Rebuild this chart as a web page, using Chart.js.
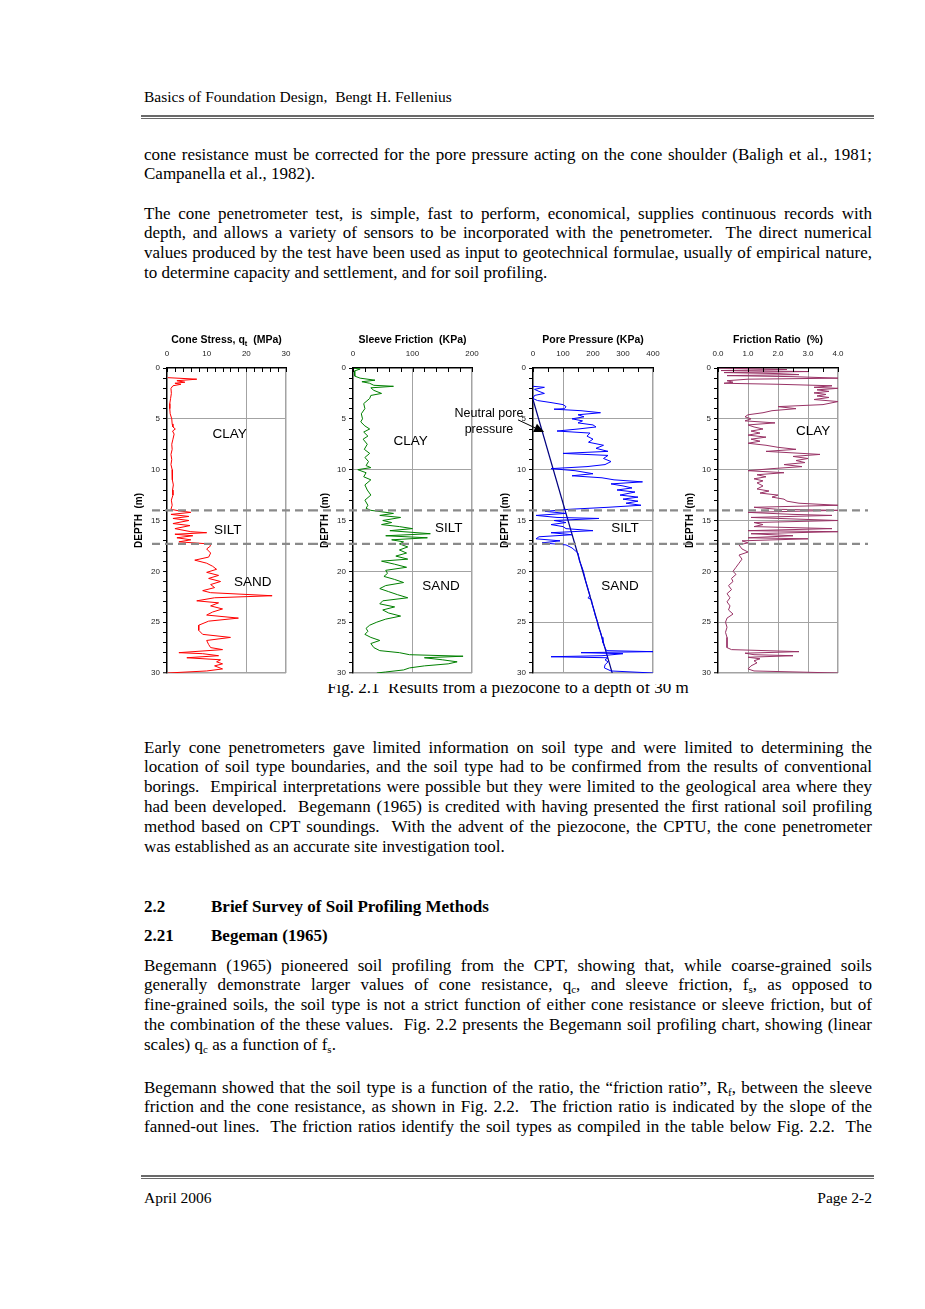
<!DOCTYPE html>
<html><head><meta charset="utf-8">
<script src="https://cdn.jsdelivr.net/npm/chart.js@4.4.0/dist/chart.umd.min.js"></script>
<style>
body{margin:0;background:#fff;}
#page{position:relative;width:925px;height:1309px;overflow:hidden;font-family:"Liberation Serif","Times New Roman",serif;font-size:17px;color:#000;background:#fff;}
.ln{position:absolute;left:144px;width:728px;line-height:20px;white-space:nowrap;}
.sm{font-size:15.5px;}
.j{text-align:justify;text-align-last:justify;white-space:normal;height:20px;}
.b{font-weight:bold;}
sub{font-size:11px;line-height:0;vertical-align:-3px;}
.rule{position:absolute;left:141px;width:733px;height:1px;border-top:2px solid #6a6a6a;border-bottom:1px solid #6a6a6a;}
.cv{position:absolute;top:325px;z-index:2;}
.note{position:absolute;z-index:3;font-family:"Liberation Sans",Arial,sans-serif;font-size:12.5px;line-height:16px;text-align:center;width:100px;}
</style></head>
<body><div id="page">
<div class="ln sm" style="top:87px">Basics of Foundation Design,&nbsp; Bengt H. Fellenius</div>
<div class="rule" style="top:115px"></div>

<div class="ln j" style="top:144.5px">cone resistance must be corrected for the pore pressure acting on the cone shoulder (Baligh et al., 1981;</div>
<div class="ln" style="top:164px">Campanella et al., 1982).</div>

<div class="ln j" style="top:203.5px">The cone penetrometer test, is simple, fast to perform, economical, supplies continuous records with</div>
<div class="ln j" style="top:223.3px">depth, and allows a variety of sensors to be incorporated with the penetrometer.&nbsp; The direct numerical</div>
<div class="ln j" style="top:243.1px">values produced by the test have been used as input to geotechnical formulae, usually of empirical nature,</div>
<div class="ln" style="top:262.9px">to determine capacity and settlement, and for soil profiling.</div>

<div class="ln" style="top:678px;text-align:center;">Fig. 2.1&nbsp; Results from a piezocone to a depth of 30 m</div>

<div class="ln j" style="top:737.5px">Early cone penetrometers gave limited information on soil type and were limited to determining the</div>
<div class="ln j" style="top:757.3px">location of soil type boundaries, and the soil type had to be confirmed from the results of conventional</div>
<div class="ln j" style="top:777.1px">borings.&nbsp; Empirical interpretations were possible but they were limited to the geological area where they</div>
<div class="ln j" style="top:796.9px">had been developed.&nbsp; Begemann (1965) is credited with having presented the first rational soil profiling</div>
<div class="ln j" style="top:816.7px">method based on CPT soundings.&nbsp; With the advent of the piezocone, the CPTU, the cone penetrometer</div>
<div class="ln" style="top:836.5px">was established as an accurate site investigation tool.</div>

<div class="ln b" style="top:896.5px">2.2</div>
<div class="ln b" style="top:896.5px;left:211px;width:600px">Brief Survey of Soil Profiling Methods</div>
<div class="ln b" style="top:925.5px">2.21</div>
<div class="ln b" style="top:925.5px;left:211px;width:600px">Begeman (1965)</div>

<div class="ln j" style="top:955.5px">Begemann (1965) pioneered soil profiling from the CPT, showing that, while coarse-grained soils</div>
<div class="ln j" style="top:975.3px">generally demonstrate larger values of cone resistance, q<sub>c</sub>, and sleeve friction, f<sub>s</sub>, as opposed to</div>
<div class="ln j" style="top:995.1px">fine-grained soils, the soil type is not a strict function of either cone resistance or sleeve friction, but of</div>
<div class="ln j" style="top:1014.9px">the combination of the these values.&nbsp; Fig. 2.2 presents the Begemann soil profiling chart, showing (linear</div>
<div class="ln" style="top:1034.7px">scales) q<sub>c</sub> as a function of f<sub>s</sub>.</div>

<div class="ln j" style="top:1077.5px">Begemann showed that the soil type is a function of the ratio, the “friction ratio”, R<sub>f</sub>, between the sleeve</div>
<div class="ln j" style="top:1097.3px">friction and the cone resistance, as shown in Fig. 2.2.&nbsp; The friction ratio is indicated by the slope of the</div>
<div class="ln j" style="top:1117.1px">fanned-out lines.&nbsp; The friction ratios identify the soil types as compiled in the table below Fig. 2.2.&nbsp; The</div>

<div class="rule" style="top:1175px"></div>
<div class="ln sm" style="top:1188px">April 2006</div>
<div class="ln sm" style="top:1188px;text-align:right">Page 2-2</div>

<canvas id="c1" class="cv" width="180" height="359" style="left:130px"></canvas>
<canvas id="c2" class="cv" width="180" height="359" style="left:310px"></canvas>
<canvas id="c3" class="cv" width="180" height="359" style="left:490px"></canvas>
<canvas id="c4" class="cv" width="205" height="359" style="left:670px"></canvas>
<div class="note" style="left:439px;top:405px">Neutral pore<br>pressure</div>
</div>
<script>
// keep each justified line on one row
document.querySelectorAll('.j').forEach(el => {
  let ws = 0;
  while (el.scrollHeight > 24 && ws > -4) { ws -= 0.25; el.style.wordSpacing = ws + 'px'; }
});

// ---------- DATA : [depth (m), value] ----------
const soilBoundaries = [14.0, 17.3];
const qtData = [[0.95,0.2],[1.1,7.5],[1.25,2.5],[1.4,4.5],[1.5,2.0],[1.6,3.5],[1.75,1.5],[2.0,1.0],[2.5,1.1],[3.0,0.9],[3.5,0.7],[4.0,0.7],[4.5,0.8],[5.0,1.2],[5.5,1.3],[5.8,1.5],[6.0,2.1],[6.2,1.4],[6.5,1.8],[7.0,1.5],[7.5,1.2],[8.0,1.3],[8.5,1.0],[9.0,1.2],[9.5,1.0],[10.0,1.3],[10.5,1.4],[11.0,1.3],[11.5,1.6],[12.0,1.4],[12.5,1.5],[13.0,1.1],[13.5,1.3],[13.9,1.0],[14.05,3.0],[14.2,6.0],[14.4,1.0],[14.6,5.5],[14.8,1.5],[15.0,5.5],[15.3,1.5],[15.5,5.8],[15.8,2.0],[16.1,6.0],[16.2,10.0],[16.35,2.0],[16.5,6.5],[16.7,2.5],[16.9,6.0],[17.1,3.0],[17.3,10.5],[17.5,11.0],[17.8,10.0],[18.2,11.0],[18.6,10.5],[18.9,7.0],[19.2,10.0],[19.5,11.5],[19.8,12.5],[20.1,10.0],[20.4,13.0],[20.7,10.5],[21.0,13.5],[21.3,11.0],[21.6,12.0],[21.9,9.0],[22.1,11.0],[22.4,26.5],[22.6,12.0],[22.9,7.5],[23.1,13.0],[23.4,11.0],[23.7,14.0],[24.0,11.5],[24.3,10.0],[24.6,18.0],[24.9,10.5],[25.3,8.0],[25.8,8.0],[26.2,9.0],[26.5,16.0],[26.8,10.0],[27.2,10.5],[27.5,11.0],[27.7,14.0],[28.0,3.0],[28.1,9.0],[28.3,13.0],[28.5,5.0],[28.7,13.5],[28.9,12.5],[29.1,14.0],[29.3,12.0],[29.6,14.0],[29.8,10.0],[30.0,0.2]];
const fsData = [[0.0,0],[0.1,12],[0.3,2],[0.8,3],[1.0,12],[1.2,37],[1.35,15],[1.5,28],[1.7,35],[1.8,68],[1.95,30],[2.2,35],[2.5,48],[2.7,30],[3.0,28],[3.5,18],[4.0,20],[4.5,14],[5.0,16],[5.3,13],[5.7,20],[6.0,28],[6.3,18],[6.7,25],[7.0,17],[7.5,24],[8.0,19],[8.4,28],[8.8,20],[9.2,26],[9.6,22],[9.8,30],[10.0,8],[10.3,22],[10.7,18],[11.0,30],[11.5,20],[12.0,24],[12.5,30],[13.0,20],[13.5,25],[13.8,22],[14.0,30],[14.3,68],[14.5,45],[14.7,80],[15.0,50],[15.2,65],[15.4,48],[15.6,78],[15.8,100],[16.0,62],[16.3,130],[16.5,55],[16.7,125],[16.9,65],[17.1,85],[17.3,78],[17.6,92],[17.9,78],[18.2,90],[18.5,72],[18.8,92],[19.0,48],[19.3,70],[19.6,90],[19.9,55],[20.2,58],[20.5,52],[20.8,70],[21.1,85],[21.4,55],[21.7,45],[22.0,60],[22.3,75],[22.6,92],[22.9,50],[23.2,45],[23.5,70],[23.8,50],[24.1,60],[24.4,80],[24.7,55],[25.0,40],[25.3,28],[25.6,22],[25.9,25],[26.2,20],[26.5,30],[26.8,45],[27.1,30],[27.5,35],[27.8,45],[28.0,78],[28.2,95],[28.35,185],[28.5,120],[28.7,150],[28.9,175],[29.1,160],[29.3,120],[29.5,95],[29.7,85],[29.9,55],[30.0,40]];
const uData = [[1.8,0],[1.9,38],[2.1,5],[2.3,20],[2.5,38],[2.7,5],[3.0,0],[3.2,15],[3.4,60],[3.6,100],[3.8,110],[4.0,105],[4.05,70],[4.2,160],[4.4,225],[4.6,150],[4.8,170],[5.0,130],[5.2,165],[5.4,150],[5.6,200],[5.8,210],[6.0,150],[6.2,80],[6.4,190],[6.7,180],[7.0,200],[7.3,185],[7.6,235],[7.9,210],[8.2,250],[8.4,100],[8.6,250],[8.9,235],[9.2,260],[9.5,240],[9.7,180],[9.9,60],[10.1,140],[10.4,200],[10.6,130],[10.8,230],[11.0,270],[11.2,365],[11.4,260],[11.6,300],[11.8,330],[12.0,280],[12.2,340],[12.5,290],[12.7,350],[12.9,300],[13.1,350],[13.3,310],[13.5,360],[13.7,250],[13.9,120],[14.1,40],[14.3,110],[14.5,10],[14.7,80],[14.8,220],[15.0,70],[15.2,110],[15.4,60],[15.6,100],[15.8,110],[16.0,200],[16.2,60],[16.4,130],[16.6,20],[16.8,10],[17.0,90],[17.2,30],[17.4,110],[17.7,130],[18.2,150],[19.0,155],[19.5,162],[20.0,168],[20.5,172],[21.0,176],[21.5,181],[22.0,186],[22.4,190],[22.6,183],[22.8,195],[23.2,197],[23.8,203],[24.4,208],[25.0,215],[25.5,218],[26.0,225],[26.5,230],[27.0,233],[27.5,240],[27.8,245],[27.9,400],[28.0,160],[28.1,300],[28.3,230],[28.4,60],[28.5,250],[28.7,240],[28.9,250],[29.2,240],[29.5,238],[29.8,260],[30.0,400]];
const u0Data = [[3.1,0],[30.0,264]];
const rfData = [[0.0,0.0],[0.15,2.3],[0.25,0.1],[0.35,3.0],[0.45,0.2],[0.55,2.0],[0.65,2.7],[0.75,0.3],[0.85,2.5],[1.0,4.0],[1.1,1.0],[1.25,0.3],[1.4,0.5],[1.5,0.2],[1.6,2.0],[1.75,3.8],[1.9,3.2],[2.0,4.0],[2.15,3.3],[2.3,3.7],[2.45,3.2],[2.6,3.6],[2.75,3.3],[2.9,3.7],[3.1,3.2],[3.3,4.0],[3.6,3.5],[3.8,2.0],[4.0,2.6],[4.2,1.8],[4.4,1.5],[4.6,1.0],[4.8,0.9],[5.0,1.1],[5.2,0.9],[5.4,1.9],[5.6,1.0],[5.8,1.2],[6.0,1.5],[6.2,1.1],[6.4,1.4],[6.6,1.0],[6.8,1.6],[7.0,1.1],[7.2,1.4],[7.4,1.0],[7.6,1.6],[7.8,2.0],[8.0,2.6],[8.2,1.6],[8.4,2.8],[8.5,3.4],[8.7,2.5],[8.9,3.0],[9.1,2.6],[9.3,2.9],[9.5,2.2],[9.7,2.8],[9.9,1.8],[10.1,1.0],[10.3,2.2],[10.5,1.3],[10.7,1.6],[10.9,1.2],[11.1,1.5],[11.3,1.3],[11.6,1.5],[11.9,1.3],[12.1,1.7],[12.3,1.4],[12.5,2.0],[12.7,1.8],[12.9,2.2],[13.1,2.3],[13.3,2.7],[13.5,4.0],[13.7,1.2],[13.9,2.0],[14.0,4.0],[14.2,1.0],[14.4,2.5],[14.5,3.8],[14.7,1.1],[14.9,3.0],[15.0,4.0],[15.2,1.2],[15.4,1.5],[15.6,1.2],[15.8,3.8],[16.0,1.0],[16.1,4.0],[16.3,1.1],[16.5,2.5],[16.7,1.0],[16.8,3.0],[17.0,0.8],[17.2,1.0],[17.4,0.7],[17.8,0.8],[18.1,1.0],[18.4,0.7],[18.8,0.8],[19.2,0.7],[19.6,0.6],[20.0,0.5],[20.3,0.6],[20.7,0.45],[21.0,0.5],[21.4,0.35],[21.8,0.45],[22.2,0.3],[22.6,0.4],[23.0,0.3],[23.4,0.4],[23.8,0.35],[24.2,0.5],[24.6,0.3],[25.0,0.25],[25.5,0.3],[26.0,0.25],[26.5,0.3],[27.0,0.3],[27.5,0.3],[27.7,0.45],[27.9,2.7],[28.05,0.9],[28.2,1.2],[28.3,2.5],[28.45,1.0],[28.6,1.4],[28.8,1.2],[29.0,1.3],[29.3,1.1],[29.6,1.0],[29.8,1.2],[30.0,4.0]];

// ---------- RENDERING ----------
const SANS = '"Liberation Sans", Arial, sans-serif';
const toPts = arr => arr.map(([d, v]) => ({x: v, y: d}));

const cptPlugin = {
  id: 'cpt',
  beforeDraw(chart) {
    const c = chart.ctx; c.save(); c.fillStyle = '#fff'; c.fillRect(0, 0, chart.width, chart.height); c.restore();
  },
  afterDraw(chart, args, o) {
    const c = chart.ctx, a = chart.chartArea, xs = chart.scales.x, ys = chart.scales.y;
    c.save();
    c.strokeStyle = '#000'; c.lineWidth = 1;
    for (let v = xs.min; v <= xs.max + 1e-9; v += o.minor) {
      const px = Math.round(xs.getPixelForValue(v)) + 0.5;
      c.beginPath(); c.moveTo(px, a.top); c.lineTo(px, a.top + 4); c.stroke();
    }
    c.fillStyle = '#000'; c.textBaseline = 'alphabetic';
    const big = 'bold 10.5px ' + SANS, small = 'bold 7.5px ' + SANS;
    let w = 0;
    o.title.forEach(p => { c.font = p.sub ? small : big; w += c.measureText(p.t).width; });
    let tx = (a.left + a.right) / 2 - w / 2; const ty = a.top - 25;
    o.title.forEach(p => { c.font = p.sub ? small : big; c.fillText(p.t, tx, ty + (p.sub ? 2.5 : 0)); tx += c.measureText(p.t).width; });
    c.font = '13.5px ' + SANS; c.textAlign = 'center'; c.textBaseline = 'middle';
    o.labels.forEach(l => c.fillText(l.text, xs.getPixelForValue(l.x), ys.getPixelForValue(l.y)));
    if (o.arrow) {
      const x1 = xs.getPixelForValue(o.arrow.from[0]), y1 = ys.getPixelForValue(o.arrow.from[1]);
      const x2 = xs.getPixelForValue(o.arrow.to[0]), y2 = ys.getPixelForValue(o.arrow.to[1]);
      const ang = Math.atan2(y2 - y1, x2 - x1), L = 10, W = 4.5;
      const bx = x2 - L * Math.cos(ang), by = y2 - L * Math.sin(ang);
      c.strokeStyle = '#000'; c.lineWidth = 1;
      c.beginPath(); c.moveTo(x1, y1); c.lineTo(bx, by); c.stroke();
      c.beginPath(); c.moveTo(x2, y2);
      c.lineTo(bx + W * Math.sin(ang), by - W * Math.cos(ang));
      c.lineTo(bx - W * Math.sin(ang), by + W * Math.cos(ang));
      c.closePath(); c.fillStyle = '#000'; c.fill();
    }
    c.strokeStyle = '#8a8a8a'; c.lineWidth = 2.2; c.setLineDash([8, 5]);
    const xStart = o.dashLeft == null ? 0 : a.left - o.dashLeft;
    const xEnd = o.dashRight == null ? chart.width : a.right + o.dashRight;
    soilBoundaries.forEach(d => {
      const py = ys.getPixelForValue(d);
      c.beginPath(); c.moveTo(xStart, py); c.lineTo(xEnd, py); c.stroke();
    });
    c.restore();
  }
};

function cptChart(id, cfg) {
  const gridCol = list => ctx => (ctx.tick && list.some(v => Math.abs(v - ctx.tick.value) < 1e-9)) ? '#a3a3a3' : 'rgba(0,0,0,0)';
  return new Chart(document.getElementById(id), {
    type: 'scatter',
    data: { datasets: cfg.datasets.map(ds => ({
      data: toPts(ds.data), borderColor: ds.color, borderWidth: ds.width || 1,
      showLine: true, pointRadius: 0, tension: 0, fill: false })) },
    options: {
      responsive: false, animation: false, devicePixelRatio: 1,
      layout: { padding: { left: cfg.padLeft, right: cfg.padRight, top: 0, bottom: 11 } },
      plugins: { legend: { display: false }, tooltip: { enabled: false },
        cpt: { minor: cfg.minor, title: cfg.title, labels: cfg.labels, arrow: cfg.arrow,
               dashLeft: cfg.dashLeft, dashRight: cfg.dashRight } },
      scales: {
        x: { type: 'linear', position: 'top', min: cfg.xMin, max: cfg.xMax,
          ticks: { stepSize: cfg.xStep, padding: 9, color: '#222', autoSkip: false, maxRotation: 0,
                   font: { family: SANS, size: 8 }, callback: cfg.xFmt || (v => v) },
          grid: { drawTicks: false, color: gridCol(cfg.xGrid),
                  lineWidth: ctx => (ctx.tick && ctx.tick.value === cfg.xMax) ? 1.5 : 1 },
          border: { color: '#000', width: 1.5 },
          afterFit: s => { s.height = 43; } },
        y: { type: 'linear', reverse: true, min: 0, max: 30,
          ticks: { stepSize: 1, maxTicksLimit: 100, padding: 3, color: '#222', autoSkip: false,
                   font: { family: SANS, size: 8 }, callback: v => (v % 5 === 0 ? v : '') },
          grid: { tickLength: 4, tickColor: '#000', tickWidth: 1, color: gridCol(cfg.yGrid),
                  lineWidth: ctx => (ctx.tick && ctx.tick.value === 30) ? 1.5 : 1 },
          border: { color: '#000', width: 1.5 },
          title: { display: true, text: 'DEPTH  (m)', color: '#000', padding: 0,
                   font: { family: SANS, size: 10, weight: 'bold' } },
          afterFit: s => { s.width = 34; } }
      }
    },
    plugins: [cptPlugin]
  });
}

cptChart('c1', {
  datasets: [{ data: qtData, color: '#ff0000' }],
  xMin: 0, xMax: 30, xStep: 10, minor: 2, xGrid: [20, 30], yGrid: [5, 30],
  padLeft: 3, padRight: 24, dashLeft: 15,
  title: [{t: 'Cone Stress, q'}, {t: 't', sub: true}, {t: '  (MPa)'}],
  labels: [{text: 'CLAY', x: 15.8, y: 6.5}, {text: 'SILT', x: 15.3, y: 16.0}, {text: 'SAND', x: 21.6, y: 21.1}]
});
cptChart('c2', {
  datasets: [{ data: fsData, color: '#008000' }],
  xMin: 0, xMax: 200, xStep: 100, minor: 20, xGrid: [100, 200], yGrid: [10, 20, 30],
  padLeft: 9, padRight: 18,
  title: [{t: 'Sleeve Friction  (KPa)'}],
  labels: [{text: 'CLAY', x: 97, y: 7.2}, {text: 'SILT', x: 161, y: 15.8}, {text: 'SAND', x: 148, y: 21.5}]
});
cptChart('c3', {
  datasets: [{ data: uData, color: '#0000ff' }, { data: u0Data, color: '#000080', width: 1.2 }],
  xMin: 0, xMax: 400, xStep: 100, minor: 50, xGrid: [100, 400], yGrid: [5, 10, 15, 20, 25, 30],
  padLeft: 9, padRight: 17,
  title: [{t: 'Pore Pressure (KPa)'}],
  labels: [{text: 'SILT', x: 307, y: 15.8}, {text: 'SAND', x: 290, y: 21.5}],
  arrow: { from: [-50, 5.1], to: [37, 6.3] }
});
cptChart('c4', {
  datasets: [{ data: rfData, color: '#993366' }],
  xMin: 0, xMax: 4, xStep: 1, minor: 0.5, xGrid: [1, 2, 3, 4], yGrid: [5, 10, 15, 20, 25, 30],
  padLeft: 14, padRight: 37, dashRight: 30, xFmt: v => v.toFixed(1),
  title: [{t: 'Friction Ratio  (%)'}],
  labels: [{text: 'CLAY', x: 3.17, y: 6.2}]
});
</script>
</body></html>
